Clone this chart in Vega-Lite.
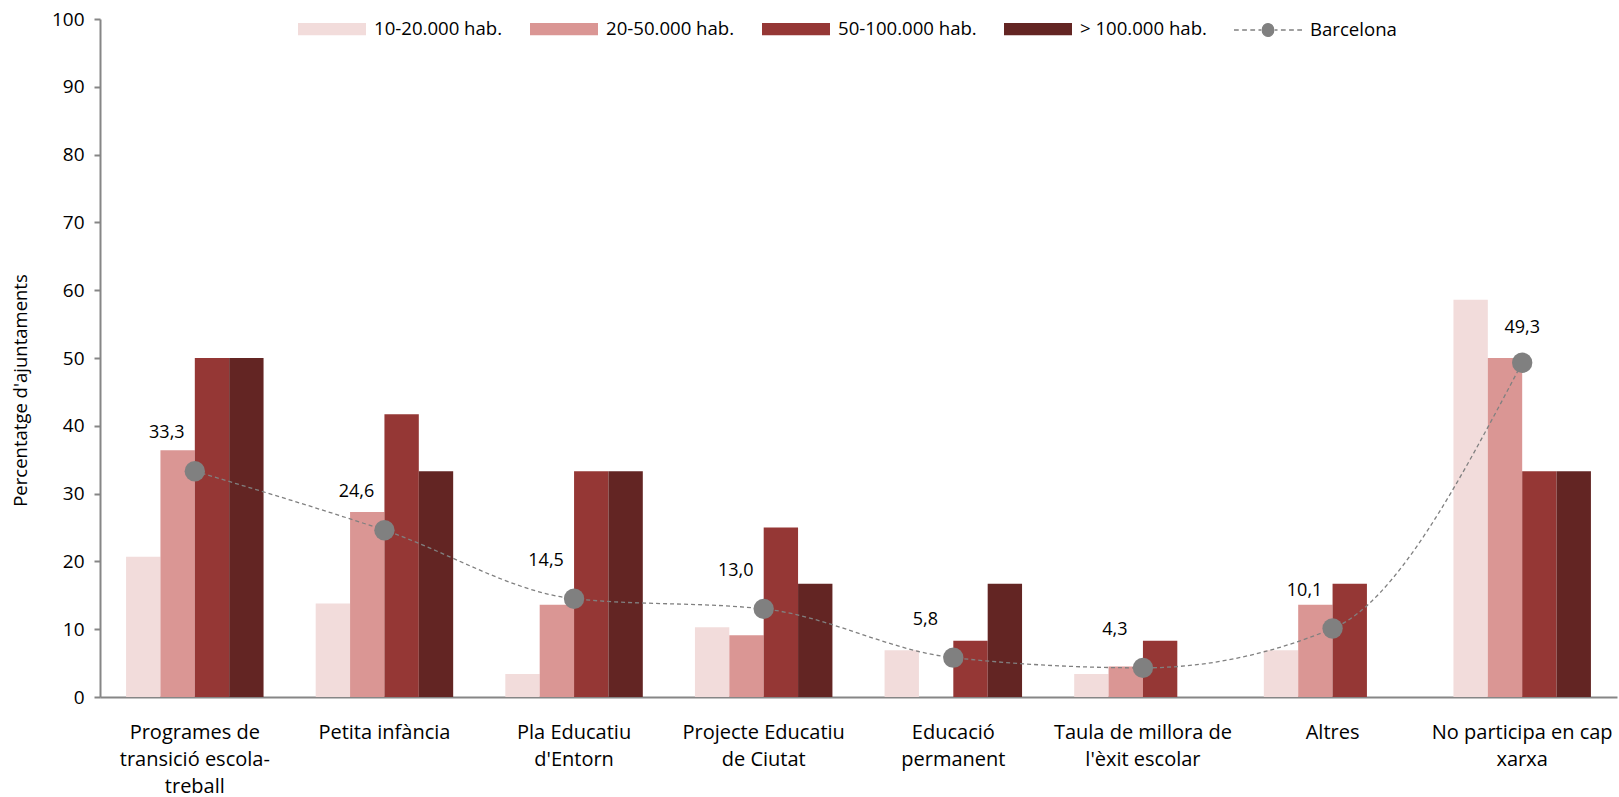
{
  "$schema": "https://vega.github.io/schema/vega-lite/v6.json",
  "autosize": {"type": "none"},
  "width": 1517,
  "height": 678,
  "padding": {"left": 100, "top": 19, "right": 2, "bottom": 100},
  "background": "white",
  "config": {
    "view": {"stroke": null},
    "locale": {"number": {"decimal": ",", "thousands": ".", "grouping": [3], "currency": ["", " €"]}},
    "font": "Open Sans",
    "axis": {"labelFont": "Open Sans", "titleFont": "Open Sans", "labelColor": "#000000", "titleColor": "#000000", "grid": false},
    "legend": {"labelFont": "Open Sans", "labelColor": "#000000", "labelFontSize": 18.6}
  },
  "datasets": {
    "bars": [
      {"categoria": "Programes de transició escola-treball", "serie": "10-20.000 hab.", "valor": 20.7},
      {"categoria": "Programes de transició escola-treball", "serie": "20-50.000 hab.", "valor": 36.4},
      {"categoria": "Programes de transició escola-treball", "serie": "50-100.000 hab.", "valor": 50.0},
      {"categoria": "Programes de transició escola-treball", "serie": "> 100.000 hab.", "valor": 50.0},
      {"categoria": "Petita infància", "serie": "10-20.000 hab.", "valor": 13.8},
      {"categoria": "Petita infància", "serie": "20-50.000 hab.", "valor": 27.3},
      {"categoria": "Petita infància", "serie": "50-100.000 hab.", "valor": 41.7},
      {"categoria": "Petita infància", "serie": "> 100.000 hab.", "valor": 33.3},
      {"categoria": "Pla Educatiu d'Entorn", "serie": "10-20.000 hab.", "valor": 3.4},
      {"categoria": "Pla Educatiu d'Entorn", "serie": "20-50.000 hab.", "valor": 13.6},
      {"categoria": "Pla Educatiu d'Entorn", "serie": "50-100.000 hab.", "valor": 33.3},
      {"categoria": "Pla Educatiu d'Entorn", "serie": "> 100.000 hab.", "valor": 33.3},
      {"categoria": "Projecte Educatiu de Ciutat", "serie": "10-20.000 hab.", "valor": 10.3},
      {"categoria": "Projecte Educatiu de Ciutat", "serie": "20-50.000 hab.", "valor": 9.1},
      {"categoria": "Projecte Educatiu de Ciutat", "serie": "50-100.000 hab.", "valor": 25.0},
      {"categoria": "Projecte Educatiu de Ciutat", "serie": "> 100.000 hab.", "valor": 16.7},
      {"categoria": "Educació permanent", "serie": "10-20.000 hab.", "valor": 6.9},
      {"categoria": "Educació permanent", "serie": "50-100.000 hab.", "valor": 8.3},
      {"categoria": "Educació permanent", "serie": "> 100.000 hab.", "valor": 16.7},
      {"categoria": "Taula de millora de l'èxit escolar", "serie": "10-20.000 hab.", "valor": 3.4},
      {"categoria": "Taula de millora de l'èxit escolar", "serie": "20-50.000 hab.", "valor": 4.5},
      {"categoria": "Taula de millora de l'èxit escolar", "serie": "50-100.000 hab.", "valor": 8.3},
      {"categoria": "Altres", "serie": "10-20.000 hab.", "valor": 6.9},
      {"categoria": "Altres", "serie": "20-50.000 hab.", "valor": 13.6},
      {"categoria": "Altres", "serie": "50-100.000 hab.", "valor": 16.7},
      {"categoria": "No participa en cap xarxa", "serie": "10-20.000 hab.", "valor": 58.6},
      {"categoria": "No participa en cap xarxa", "serie": "20-50.000 hab.", "valor": 50.0},
      {"categoria": "No participa en cap xarxa", "serie": "50-100.000 hab.", "valor": 33.3},
      {"categoria": "No participa en cap xarxa", "serie": "> 100.000 hab.", "valor": 33.3}
    ],
    "bcn": [
      {"categoria": "Programes de transició escola-treball", "serie": "Barcelona", "valor": 33.3},
      {"categoria": "Petita infància", "serie": "Barcelona", "valor": 24.6},
      {"categoria": "Pla Educatiu d'Entorn", "serie": "Barcelona", "valor": 14.5},
      {"categoria": "Projecte Educatiu de Ciutat", "serie": "Barcelona", "valor": 13.0},
      {"categoria": "Educació permanent", "serie": "Barcelona", "valor": 5.8},
      {"categoria": "Taula de millora de l'èxit escolar", "serie": "Barcelona", "valor": 4.3},
      {"categoria": "Altres", "serie": "Barcelona", "valor": 10.1},
      {"categoria": "No participa en cap xarxa", "serie": "Barcelona", "valor": 49.3}
    ]
  },
  "encoding": {
    "x": {
      "field": "categoria",
      "type": "nominal",
      "sort": null,
      "scale": {
        "domain": ["Programes de transició escola-treball", "Petita infància", "Pla Educatiu d'Entorn", "Projecte Educatiu de Ciutat", "Educació permanent", "Taula de millora de l'èxit escolar", "Altres", "No participa en cap xarxa"],
        "paddingInner": 0.275,
        "paddingOuter": 0.1375
      },
      "axis": {
        "title": null,
        "labelAngle": 0,
        "labelFontSize": 20,
        "labelLineHeight": 27,
        "labelPadding": 25,
        "labelBaseline": "top",
        "labelLimit": 300,
        "ticks": false,
        "domainColor": "#868686",
        "domainWidth": 2,
        "labelExpr": "datum.value == 'Programes de transició escola-treball' ? ['Programes de', 'transició escola-', 'treball'] : datum.value == \"Pla Educatiu d'Entorn\" ? ['Pla Educatiu', \"d'Entorn\"] : datum.value == 'Projecte Educatiu de Ciutat' ? ['Projecte Educatiu', 'de Ciutat'] : datum.value == 'Educació permanent' ? ['Educació', 'permanent'] : datum.value == \"Taula de millora de l'èxit escolar\" ? ['Taula de millora de', \"l'èxit escolar\"] : datum.value == 'No participa en cap xarxa' ? ['No participa en cap', 'xarxa'] : datum.value"
      }
    },
    "y": {
      "field": "valor",
      "type": "quantitative",
      "scale": {"domain": [0, 100], "nice": false},
      "axis": {
        "title": "Percentatge d'ajuntaments",
        "values": [0, 10, 20, 30, 40, 50, 60, 70, 80, 90, 100],
        "labelFontSize": 19,
        "labelPadding": 10,
        "tickSize": 6,
        "tickColor": "#868686",
        "tickWidth": 2,
        "domainColor": "#868686",
        "domainWidth": 2,
        "titleFontSize": 18.5,
        "titleFontWeight": "normal",
        "titleAngle": 270,
        "titleX": -80,
        "titleY": 371,
        "titleAlign": "center",
        "titleBaseline": "middle"
      }
    }
  },
  "layer": [
    {
      "data": {"name": "bars"},
      "mark": {"type": "bar"},
      "encoding": {
        "xOffset": {
          "field": "serie",
          "type": "nominal",
          "scale": {"domain": ["10-20.000 hab.", "20-50.000 hab.", "50-100.000 hab.", "> 100.000 hab."], "paddingInner": 0, "paddingOuter": 0}
        },
        "fill": {
          "field": "serie",
          "type": "nominal",
          "scale": {"domain": ["10-20.000 hab.", "20-50.000 hab.", "50-100.000 hab.", "> 100.000 hab."], "range": ["#F2DCDB", "#DA9694", "#953735", "#632523"]},
          "legend": {
            "title": null,
            "orient": "none",
            "direction": "horizontal",
            "legendX": 198,
            "legendY": -24,
            "symbolType": "M-1,-0.18H1V0.18H-1Z",
            "symbolSize": 4624,
            "symbolStrokeWidth": 0,
            "labelOffset": 8,
            "columnPadding": 27
          }
        }
      }
    },
    {
      "data": {"name": "bcn"},
      "mark": {"type": "line", "interpolate": "monotone", "strokeDash": [4, 3], "strokeWidth": 1.3},
      "encoding": {
        "stroke": {
          "field": "serie",
          "type": "nominal",
          "scale": {"domain": ["Barcelona"], "range": ["#808080"]},
          "legend": {
            "title": null,
            "orient": "none",
            "legendX": 1133,
            "legendY": -24,
            "symbolType": "M-1,0H-0.86M-0.76,0H-0.62M-0.52,0H-0.38M-0.28,0H-0.2M0.2,0H0.28M0.38,0H0.52M0.62,0H0.76M0.86,0H1M-0.17,0A0.17,0.19 0 1 1 0.17,0A0.17,0.19 0 1 1 -0.17,0Z",
            "symbolSize": 4624,
            "symbolFillColor": "#808080",
            "symbolStrokeWidth": 1.3,
            "symbolDash": [],
            "labelOffset": 7
          }
        }
      }
    },
    {
      "data": {"name": "bcn"},
      "mark": {"type": "circle", "size": 415, "color": "#808080", "opacity": 1},
      "encoding": {}
    },
    {
      "data": {"name": "bcn"},
      "transform": [{"filter": "datum.categoria != 'No participa en cap xarxa'"}],
      "mark": {"type": "text", "dx": -28, "dy": -38, "fontSize": 18, "color": "#000000", "font": "Open Sans"},
      "encoding": {"text": {"field": "valor", "type": "quantitative", "format": ".1f"}}
    },
    {
      "data": {"name": "bcn"},
      "transform": [{"filter": "datum.categoria == 'No participa en cap xarxa'"}],
      "mark": {"type": "text", "dx": 0, "dy": -35, "fontSize": 18, "color": "#000000", "font": "Open Sans"},
      "encoding": {"text": {"field": "valor", "type": "quantitative", "format": ".1f"}}
    }
  ]
}
